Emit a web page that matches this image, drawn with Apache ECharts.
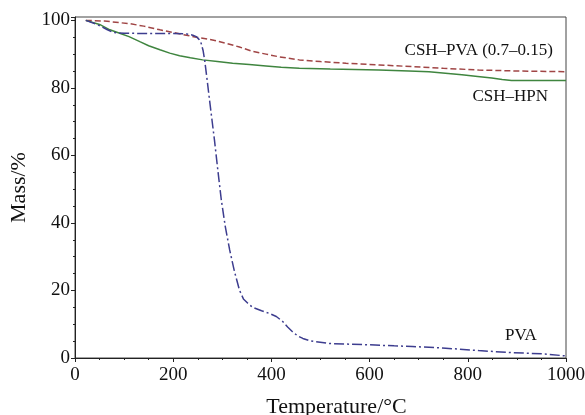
<!DOCTYPE html>
<html>
<head>
<meta charset="utf-8">
<script src="https://cdn.jsdelivr.net/npm/echarts@6/dist/echarts.min.js"></script>
<style>html,body{margin:0;padding:0;background:#fff}#c{width:585px;height:415px}</style>
</head>
<body>
<div id="c"></div>
<script>
var hpnData = [[22,100],[50,98.8],[71,97.2],[91,96.2],[110,95.2],[132,93.7],[150,92.5],[173,91.3],[193,90.3],[213,89.5],[235,88.9],[260,88.3],[290,87.8],[321,87.3],[355,86.9],[389,86.5],[420,86.1],[457,85.8],[520,85.6],[619,85.3],[680,85.0],[721,84.8],[760,84.3],[788,83.9],[820,83.4],[849,82.9],[870,82.5],[889,82.2],[950,82.2],[1000,82.2]];
var cshPvaData = [[22,100],[60,99.8],[112,99.0],[140,98.3],[173,97.2],[210,96.1],[247,95.0],[280,94.2],[308,93.2],[335,92.1],[362,90.8],[389,90.0],[416,89.2],[457,88.3],[500,87.8],[552,87.3],[620,86.8],[687,86.3],[750,85.8],[822,85.3],[900,85.0],[1000,84.8]];
var pvaData = [[22,100],[45,98.8],[65,97.3],[78,96.4],[100,96.2],[150,96.1],[200,96.1],[227,96.0],[240,95.6],[247,95.2],[253,94.3],[257,93.2],[261,91],[264,88.3],[269,82.5],[274,76.4],[279,70.5],[284,64.6],[291,55.5],[298,46.8],[306,39],[315,32],[325,25.5],[335,20.1],[343,17.5],[352,16.2],[362,15.0],[380,14.0],[396,13.2],[410,12.3],[423,10.8],[433,9.2],[443,7.8],[453,6.6],[464,5.8],[478,5.1],[491,4.8],[518,4.3],[560,4.1],[599,3.9],[650,3.6],[687,3.4],[755,2.9],[822,2.2],[889,1.6],[957,1.2],[1000,0.6]];
var seriesNames = ['CSH\u2013PVA (0.7\u20130.15)', 'CSH\u2013HPN', 'PVA'];
var xTitle = 'Temperature/\u00B0C';
var yTitle = 'Mass/%';

var FONT = "'Liberation Serif','Times New Roman',serif";
var chart = echarts.init(document.getElementById('c'), null, {renderer:'canvas'});
var axisCommon = {
  axisLine:{show:true,lineStyle:{color:'#222',width:1}},
  axisTick:{show:true,inside:false,length:4,lineStyle:{color:'#222'}},
  minorTick:{show:true,splitNumber:4,length:2,lineStyle:{color:'#222'}},
  splitLine:{show:false}
};
chart.setOption({
  animation:false,
  grid:{left:75,right:19,top:17,bottom:57,show:true,borderColor:'#444',borderWidth:1,backgroundColor:'transparent',
        containLabel:false, outerBoundsMode:'none'},
  xAxis: Object.assign({}, axisCommon, {
    type:'value', min:0, max:1000, interval:200,
    name:xTitle, nameLocation:'middle', nameGap:38,
    nameTextStyle:{fontFamily:FONT,fontSize:22,color:'#111',padding:[0,0,0,32]},
    axisLabel:{fontFamily:FONT,fontSize:19,color:'#111',margin:8,
      formatter:function(v){return String(v);}}
  }),
  yAxis: Object.assign({}, axisCommon, {
    type:'value', min:0, max:101, interval:20,
    name:yTitle, nameLocation:'middle', nameGap:39, nameRotate:90,
    nameTextStyle:{fontFamily:FONT,fontSize:22,color:'#111'},
    axisLabel:{fontFamily:FONT,fontSize:19,color:'#111',margin:5,
      formatter:function(v){return v%20===0?String(v):'';}}
  }),
  series:[
    {name:seriesNames[0],type:'line',data:cshPvaData,showSymbol:false,symbol:'none',
     lineStyle:{color:'#a04545',width:1.5,type:[6,3]}},
    {name:seriesNames[1],type:'line',data:hpnData,showSymbol:false,symbol:'none',
     lineStyle:{color:'#3f853f',width:1.5,type:'solid'}},
    {name:seriesNames[2],type:'line',data:pvaData,showSymbol:false,symbol:'none',
     lineStyle:{color:'#3d3d8f',width:1.5,type:[10,3,2,3]}}
  ],
  graphic:[
    {type:'text',right:585-553,top:42,style:{text:seriesNames[0],font:'17px '+FONT,fill:'#111'}},
    {type:'text',right:585-548,top:88,style:{text:seriesNames[1],font:'17px '+FONT,fill:'#111'}},
    {type:'text',left:505,top:327,style:{text:seriesNames[2],font:'17px '+FONT,fill:'#111'}}
  ]
});
</script>
</body>
</html>
